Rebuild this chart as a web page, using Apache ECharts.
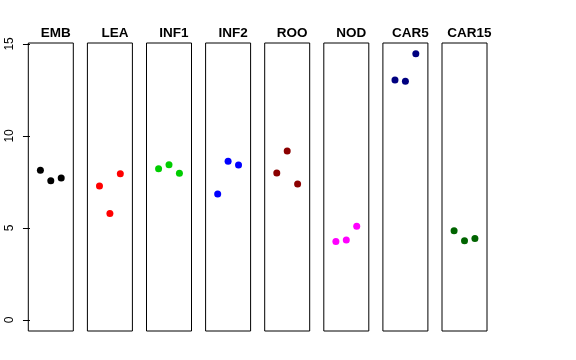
<!DOCTYPE html>
<html><head><meta charset="utf-8">
<script src="https://cdn.jsdelivr.net/npm/echarts@6/dist/echarts.min.js"></script>
<style>html,body{margin:0;padding:0;background:#fff}#c{width:576px;height:360px}</style>
</head><body><div id="c"></div>
<script>
const categories = ['EMB','LEA','INF1','INF2','ROO','NOD','CAR5','CAR15'];
const EMB   = [8.14, 7.57, 7.72];
const LEA   = [7.28, 5.78, 7.95];
const INF1  = [8.22, 8.44, 7.97];
const INF2  = [6.85, 8.62, 8.42];
const ROO   = [7.99, 9.18, 7.39];
const NOD   = [4.26, 4.35, 5.09];
const CAR5  = [13.04, 12.97, 14.47];
const CAR15 = [4.85, 4.31, 4.42];
const seriesValues = [EMB, LEA, INF1, INF2, ROO, NOD, CAR5, CAR15];
const colors = ['#000000','#FF0000','#00CD00','#0000FF','#8B0000','#FF00FF','#000080','#006400'];
const yTicks = [0, 5, 10, 15];
const replicates = [1, 2, 3];

(function () {
const chart = echarts.init(document.getElementById('c'), null, {renderer:'canvas'});
const grids = [], xAxes = [], yAxes = [], series = [], titles = [];
const left0 = 28.3, step = 59.1, w = 45, gTop = 43, gH = 288;
categories.forEach((cat, i) => {
  const l = left0 + i * step;
  grids.push({left: l, top: gTop, width: w, height: gH, show: true, borderColor: '#000', borderWidth: 1, backgroundColor: 'transparent'});
  xAxes.push({gridIndex: i, type: 'value', min: -0.16, max: 4.16, show: false});
  const ya = {gridIndex: i, type: 'value', min: -0.6, max: 15.05, splitLine: {show: false}, axisLine: {show: false}};
  if (i === 0) {
    ya.axisTick = {show: true, length: 7, customValues: yTicks, lineStyle: {color: '#000'}};
    ya.axisLabel = {show: true, customValues: yTicks, rotate: 90, margin: 13, color: '#000', fontSize: 12, fontFamily: 'Liberation Sans, Arial, sans-serif', formatter: v => String(v)};
  } else {
    ya.axisTick = {show: false};
    ya.axisLabel = {show: false};
  }
  yAxes.push(ya);
  series.push({type: 'scatter', xAxisIndex: i, yAxisIndex: i, symbol: 'circle', symbolSize: 7,
    itemStyle: {color: colors[i], opacity: 1}, data: seriesValues[i].map((v, k) => [replicates[k], v]), silent: true, animation: false});
  titles.push({text: cat, left: l + w / 2, top: 21, textAlign: 'center',
    textStyle: {fontSize: 13.5, fontWeight: 'bold', color: '#000', fontFamily: 'Liberation Sans, Arial, sans-serif'}});
});
chart.setOption({animation: false, title: titles, grid: grids, xAxis: xAxes, yAxis: yAxes, series: series});
})();
</script></body></html>
